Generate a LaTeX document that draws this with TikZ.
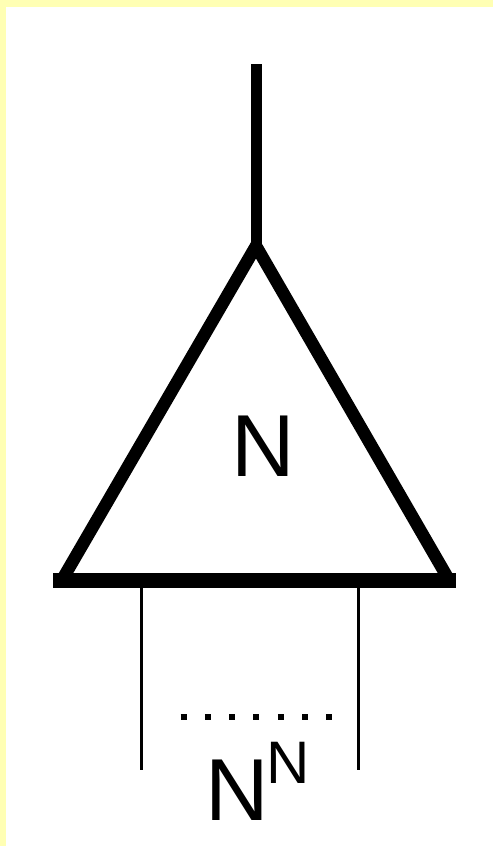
\documentclass[tikz,border=0pt]{standalone}
\usepackage{fontspec}
\setmainfont{Liberation Sans}
\definecolor{frameyellow}{RGB}{255,255,180}
\begin{document}
\begin{tikzpicture}[x=1pt,y=-1pt,
  thickline/.style={line width=12.5pt,line join=miter},
  legline/.style={line width=3pt},
  bigtext/.style={inner sep=0pt,anchor=base,font=\fontsize{88}{88}\selectfont},
  suptext/.style={inner sep=0pt,anchor=base,font=\fontsize{60}{60}\selectfont}]
\useasboundingbox (0,0) rectangle (493,846);
\fill[white] (0,0) rectangle (493,846);
\fill[frameyellow] (0,0) rectangle (493,7);
\fill[frameyellow] (0,0) rectangle (6,846);
% coordinates
\coordinate (top) at (256,64);
\coordinate (apex) at (256,246);
\coordinate (bl) at (62,580);
\coordinate (br) at (449,580);
\coordinate (baseL) at (53,580);
\coordinate (baseR) at (456,580);
\coordinate (legLt) at (141,580);
\coordinate (legLb) at (141,770);
\coordinate (legRt) at (358,580);
\coordinate (legRb) at (358,770);
\coordinate (dotsL) at (180.5,717);
\coordinate (dotsR) at (332.5,717);
% drawing
\draw[line width=11pt] (top) -- (apex);
\draw[thickline] (bl) -- (apex) -- (br);
\draw[line width=15pt] (baseL) -- (baseR);
\draw[legline] (legLt) -- (legLb);
\draw[legline] (legRt) -- (legRb);
\draw[line width=6pt,dash pattern=on 6pt off 18.33pt] (dotsL) -- (dotsR);
\node[bigtext] (n) at (263.5,476) {N};
\node[bigtext] (nbig) at (237.5,820) {N};
\node[suptext] (nsup) at (288.5,783) {N};
\end{tikzpicture}
\end{document}
